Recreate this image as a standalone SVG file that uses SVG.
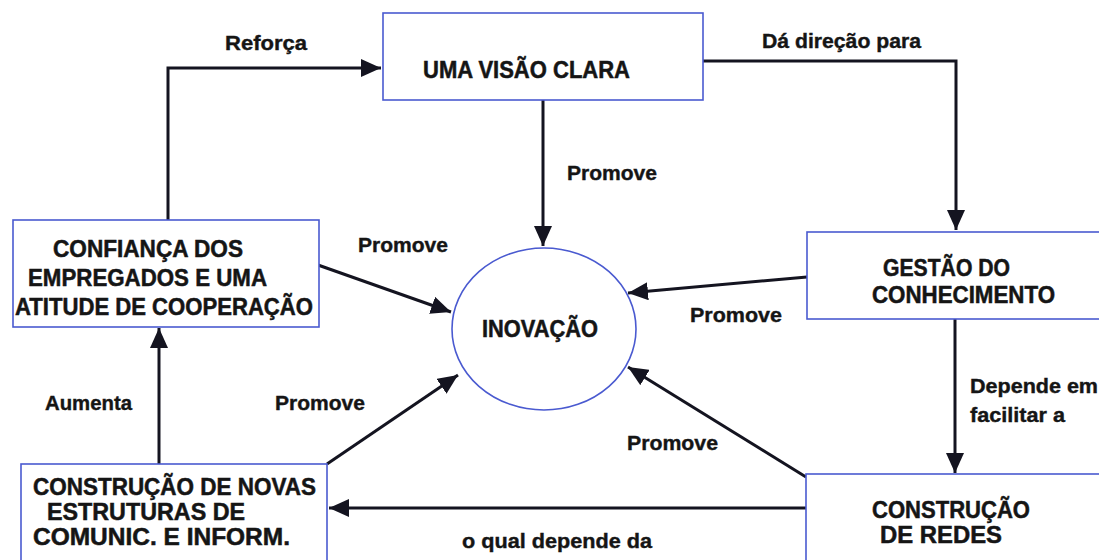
<svg xmlns="http://www.w3.org/2000/svg" width="1099" height="560" viewBox="0 0 1099 560">
<style>
.box{fill:#fff;stroke:#4a5ad0;stroke-width:1.6}
.con{fill:none;stroke:#141420;stroke-width:3}
.nt{font-family:"Liberation Sans",Arial,sans-serif;font-weight:bold;font-size:23px;fill:#151515;stroke:#151515;stroke-width:0.5}
.lb{font-family:"Liberation Sans",Arial,sans-serif;font-weight:bold;font-size:21px;fill:#151515;stroke:#151515;stroke-width:0.4}
</style>
<defs>
<marker id="ah" markerUnits="userSpaceOnUse" markerWidth="22" markerHeight="18" refX="20" refY="9" orient="auto">
<path d="M0,0 L20,9 L0,18 Z" fill="#141420"/>
</marker>
</defs>
<rect width="1099" height="560" fill="#fff"/>
<g id="connectors">
<path class="con" d="M168,220 V68 H381" marker-end="url(#ah)"/>
<path class="con" d="M703,61 H956 V230" marker-end="url(#ah)"/>
<path class="con" d="M543,100 V246" marker-end="url(#ah)"/>
<path class="con" d="M318,265 L451,312" marker-end="url(#ah)"/>
<path class="con" d="M807,277 L628,293" marker-end="url(#ah)"/>
<path class="con" d="M806,477 L628,367" marker-end="url(#ah)"/>
<path class="con" d="M327,464 L458,375" marker-end="url(#ah)"/>
<path class="con" d="M955,319 V473" marker-end="url(#ah)"/>
<path class="con" d="M806,508 H329" marker-end="url(#ah)"/>
<path class="con" d="M159,464 V328" marker-end="url(#ah)"/>
</g>
<g id="labels">
<text class="lb" x="225" y="50" textLength="82" lengthAdjust="spacingAndGlyphs">Reforça</text>
<text class="lb" x="762" y="48" textLength="159" lengthAdjust="spacingAndGlyphs">Dá direção para</text>
<text class="lb" x="567" y="180" textLength="90" lengthAdjust="spacingAndGlyphs">Promove</text>
<text class="lb" x="358" y="252" textLength="90" lengthAdjust="spacingAndGlyphs">Promove</text>
<text class="lb" x="690" y="322" textLength="92" lengthAdjust="spacingAndGlyphs">Promove</text>
<text class="lb" x="275" y="410" textLength="90" lengthAdjust="spacingAndGlyphs">Promove</text>
<text class="lb" x="627" y="450" textLength="91" lengthAdjust="spacingAndGlyphs">Promove</text>
<text class="lb" x="45" y="410" textLength="87" lengthAdjust="spacingAndGlyphs">Aumenta</text>
<text class="lb" x="970" y="393" textLength="128" lengthAdjust="spacingAndGlyphs">Depende em</text>
<text class="lb" x="970" y="422" textLength="95" lengthAdjust="spacingAndGlyphs">facilitar a</text>
<text class="lb" x="462" y="548" textLength="190" lengthAdjust="spacingAndGlyphs">o qual depende da</text>
</g>
<g id="visao">
<rect class="box" x="383" y="13" width="320" height="87"/>
<text class="nt" x="423" y="78" textLength="207" lengthAdjust="spacingAndGlyphs">UMA VISÃO CLARA</text>
</g>
<g id="confianca">
<rect class="box" x="13" y="220" width="306" height="107"/>
<text class="nt" x="53" y="257" textLength="190" lengthAdjust="spacingAndGlyphs">CONFIANÇA DOS</text>
<text class="nt" x="28" y="286" textLength="239" lengthAdjust="spacingAndGlyphs">EMPREGADOS E UMA</text>
<text class="nt" x="15" y="315" textLength="298" lengthAdjust="spacingAndGlyphs">ATITUDE DE COOPERAÇÃO</text>
</g>
<g id="gestao">
<rect class="box" x="807" y="232" width="320" height="87"/>
<text class="nt" x="883" y="276" textLength="127" lengthAdjust="spacingAndGlyphs">GESTÃO DO</text>
<text class="nt" x="872" y="303" textLength="183" lengthAdjust="spacingAndGlyphs">CONHECIMENTO</text>
</g>
<g id="inovacao">
<ellipse class="box" cx="544" cy="329" rx="92" ry="81"/>
<text class="nt" x="482" y="337" textLength="116" lengthAdjust="spacingAndGlyphs">INOVAÇÃO</text>
</g>
<g id="redes">
<rect class="box" x="806" y="474" width="320" height="110"/>
<text class="nt" x="872" y="518" textLength="158" lengthAdjust="spacingAndGlyphs">CONSTRUÇÃO</text>
<text class="nt" x="880" y="543" textLength="122" lengthAdjust="spacingAndGlyphs">DE REDES</text>
</g>
<g id="novas">
<rect class="box" x="21" y="464" width="306" height="110"/>
<text class="nt" x="33" y="495" textLength="283" lengthAdjust="spacingAndGlyphs">CONSTRUÇÃO DE NOVAS</text>
<text class="nt" x="47" y="520" textLength="198" lengthAdjust="spacingAndGlyphs">ESTRUTURAS DE</text>
<text class="nt" x="33" y="545" textLength="257" lengthAdjust="spacingAndGlyphs">COMUNIC. E INFORM.</text>
</g>
</svg>
